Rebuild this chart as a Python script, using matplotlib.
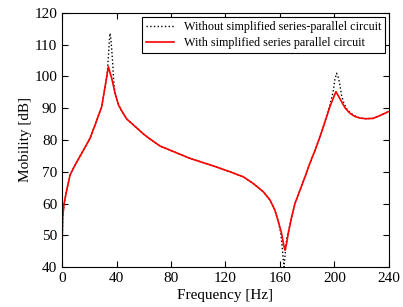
import matplotlib
matplotlib.use('Agg')
import matplotlib.pyplot as plt

plt.rcParams['font.family'] = ['Liberation Serif', 'DejaVu Serif']

# frequency [Hz] and mobility [dB]
freq_with = [0, 0.5, 1.5, 3.4, 5.9, 9.5, 14.4, 20.5, 24.2, 29.1, 31.6, 33, 34, 35,
             36.5, 38.9, 41.5, 44, 47.5, 53, 60, 64.6, 71.9, 79.3, 94, 110, 123.3,
             133.1, 140.4, 147.8, 152.7, 156.3, 158.8, 161.2, 162.5, 163.7, 164.9,
             166.1, 168.6, 171, 174.7, 178.4, 182, 186, 190.6, 196.7, 199, 201.1,
             203, 205.3, 208, 211.4, 215, 218.7, 223, 228.5, 234, 239.5]
mob_with = [46.9, 55.8, 60, 64.2, 69, 72.1, 75.8, 80.5, 84.7, 90.5, 96.8, 100.5, 103.1, 101.5,
            99.4, 94.7, 91, 89, 86.6, 84.5, 81.8, 80.3, 78.1, 76.8, 74.2, 72, 70,
            68.4, 66.3, 63.7, 61.1, 57.9, 54.3, 50.6, 47.5, 45.3, 47.5,
            50.6, 55.8, 60, 64.2, 68.4, 72.7, 77, 82.5, 90.5, 93, 95.2,
            93.8, 92, 90, 88.4, 87.4, 86.9, 86.7, 86.8, 87.8, 88.9]

freq_without = [0, 0.5, 1.5, 3.4, 5.9, 9.5, 14.4, 20.5, 24.2, 29.1, 31.6, 33, 34, 34.7,
                35.2, 35.8, 36.5, 37.2, 37.9, 38.9, 41.5, 44, 47.5, 53, 60, 64.6, 71.9,
                79.3, 94, 110, 123.3, 133.1, 140.4, 147.8, 152.7, 156.3, 158.8, 160.5,
                161.5, 162.3, 163, 164, 165, 166.1, 168.6, 171, 174.7, 178.4, 182, 186,
                190.6, 196.7, 199, 200.3, 201.6, 203, 204, 205.3, 207, 209, 211.4, 215,
                218.7, 223, 228.5, 234, 239.5]
mob_without = [46.9, 55.8, 60, 64.2, 69, 72.1, 75.8, 80.5, 84.7, 90.5, 96.8, 100, 106, 111,
               113.6, 112, 108.3, 104, 98.5, 94.7, 91, 89, 86.6, 84.5, 81.8, 80.3, 78.1,
               76.8, 74.2, 72, 70, 68.4, 66.3, 63.7, 61.1, 57.9, 54.3, 51,
               47, 43, 40, 45, 49, 51, 55.8, 60, 64.2, 68.4, 72.7, 77,
               82.5, 91, 95, 99, 101, 99.5, 97.3, 94, 91.5, 89.8, 88.6, 87.6,
               86.9, 86.7, 86.8, 87.8, 88.9]

fig, ax = plt.subplots(figsize=(4.03, 3.07), dpi=100)
fig.subplots_adjust(left=0.154, right=0.965, bottom=0.13, top=0.958)

ax.plot(freq_without, mob_without, color='black', linestyle=':', linewidth=1.0,
        label='Without simplified series-parallel circuit')
ax.plot(freq_with, mob_with, color='red', linestyle='-', linewidth=1.2,
        label='With simplified series parallel circuit')

ax.set_xlim(0, 240)
ax.set_ylim(40, 120)
ax.set_xticks(range(0, 241, 40))
ax.set_yticks(range(40, 121, 10))
ax.tick_params(direction='in', top=True, right=True, labelsize=11, length=4)
ax.set_xlabel('Frequency [Hz]', fontsize=11, labelpad=3)
ax.set_ylabel('Mobility [dB]', fontsize=11, labelpad=2)

leg = ax.legend(loc='upper right', fontsize=8.7, fancybox=False, framealpha=1,
                edgecolor='black', borderaxespad=0.3, handlelength=2.3,
                borderpad=0.35, labelspacing=0.35)
leg.get_frame().set_linewidth(0.8)

fig.savefig('out.png', dpi=100)
